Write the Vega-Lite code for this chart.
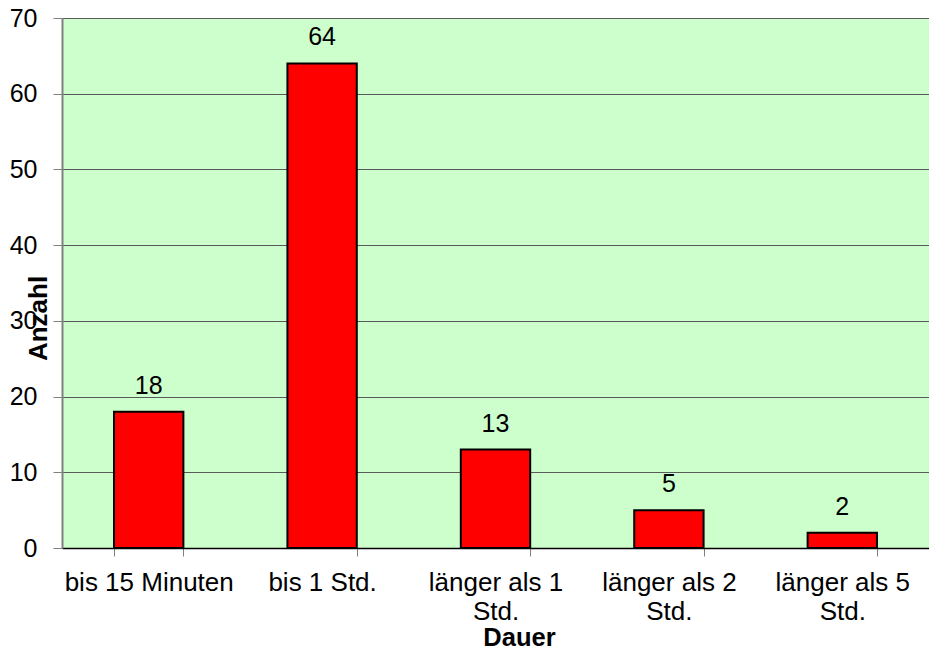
{
  "$schema": "https://vega.github.io/schema/vega-lite/v6.json",
  "width": 867,
  "height": 530,
  "autosize": {"type": "none"},
  "padding": {"left": 62, "top": 18, "right": 0, "bottom": 106},
  "background": "#ffffff",
  "config": {
    "font": "Liberation Sans",
    "view": {"fill": "#CCFFCC", "stroke": null}
  },
  "data": {
    "values": [
      {"Dauer": "bis 15 Minuten", "Anzahl": 18},
      {"Dauer": "bis 1 Std.", "Anzahl": 64},
      {"Dauer": "länger als 1 Std.", "Anzahl": 13},
      {"Dauer": "länger als 2 Std.", "Anzahl": 5},
      {"Dauer": "länger als 5 Std.", "Anzahl": 2}
    ]
  },
  "encoding": {
    "x": {
      "field": "Dauer",
      "type": "nominal",
      "sort": null,
      "scale": {"paddingInner": 0.6, "paddingOuter": 0.3},
      "axis": {
        "title": "Dauer",
        "titleFont": "Liberation Sans",
        "titleFontSize": 25.5,
        "titleFontWeight": "bold",
        "titleColor": "#000000",
        "titleX": 457,
        "titleY": 97,
        "titleBaseline": "alphabetic",
        "labelAngle": 0,
        "labelFontSize": 26,
        "labelColor": "#000000",
        "labelBaseline": "top",
        "labelPadding": 13,
        "labelLineHeight": 29,
        "labelLimit": 300,
        "labelExpr": "substring(datum.value, 0, 6) == 'länger' ? [substring(datum.value, 0, 12), 'Std.'] : datum.value",
        "tickBand": "extent",
        "tickSize": 8,
        "tickColor": "#808080",
        "tickWidth": 1,
        "domainColor": "#000000",
        "domainWidth": 1.5,
        "grid": false
      }
    },
    "y": {
      "field": "Anzahl",
      "type": "quantitative",
      "scale": {"domain": [0, 70], "nice": false},
      "axis": {
        "title": "Anzahl",
        "titleFontSize": 26,
        "titleFontWeight": "bold",
        "titleColor": "#000000",
        "titleAngle": -90,
        "titleX": -16,
        "titleY": 300,
        "titleAlign": "center",
        "titleBaseline": "alphabetic",
        "values": [0, 10, 20, 30, 40, 50, 60, 70],
        "labelFontSize": 25,
        "labelColor": "#000000",
        "labelPadding": 16,
        "tickSize": 9,
        "tickColor": "#808080",
        "domainColor": "#808080",
        "domainWidth": 2,
        "grid": true,
        "gridColor": "#5a5a5a",
        "gridWidth": 1
      }
    }
  },
  "layer": [
    {
      "mark": {"type": "bar", "color": "#FF0000", "stroke": "#000000", "strokeWidth": 2}
    },
    {
      "mark": {"type": "text", "baseline": "alphabetic", "dy": -18, "fontSize": 25, "color": "#000000"},
      "encoding": {"text": {"field": "Anzahl", "type": "quantitative"}}
    }
  ]
}
